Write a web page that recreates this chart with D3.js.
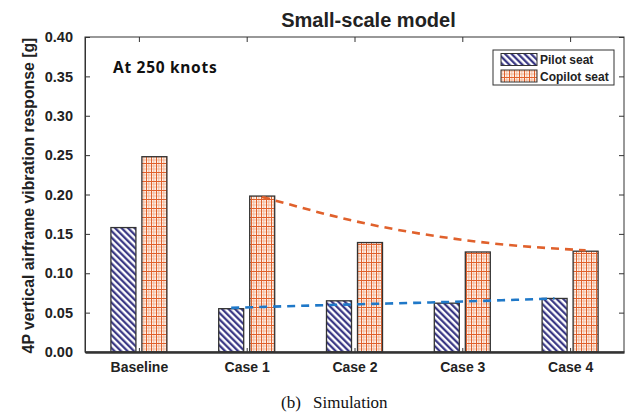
<!DOCTYPE html>
<html>
<head>
<meta charset="utf-8">
<script src="https://cdn.jsdelivr.net/npm/d3@7"></script>
<style>
  body { margin: 0; background: #fff; }
  svg { display: block; }
</style>
</head>
<body>
<div id="chart"></div>
<script>
// data
const categories = ["Baseline", "Case 1", "Case 2", "Case 3", "Case 4"];
const pilotSeat = [0.158, 0.055, 0.065, 0.062, 0.068];
const copilotSeat = [0.248, 0.198, 0.139, 0.127, 0.128];
// dashed trend lines (Case 1 .. Case 4)
const trendCats = ["Case 1", "Case 2", "Case 3", "Case 4"];
const copilotTrend = [0.197, 0.162, 0.140, 0.129];
const pilotTrend = [0.056, 0.060, 0.0635, 0.068];
const yTicks = [0, 0.05, 0.10, 0.15, 0.20, 0.25, 0.30, 0.35, 0.40];
const seriesNames = ["Pilot seat", "Copilot seat"];

const W = 628, H = 412;
const margin = { top: 37, right: 4, bottom: 60, left: 85 };
const innerW = W - margin.left - margin.right;
const innerH = H - margin.top - margin.bottom;
const ink = "#222";
const navy = "#2c2a7c";
const orange = "#e0612c";

const svg = d3.select("#chart").append("svg")
    .attr("width", W)
    .attr("height", H)
    .attr("viewBox", `0 0 ${W} ${H}`);

svg.append("rect").attr("width", W).attr("height", H).attr("fill", "#fff");

// hatch patterns
const defs = svg.append("defs");
const hatch = defs.append("pattern")
    .attr("id", "hatchPilot")
    .attr("patternUnits", "userSpaceOnUse")
    .attr("width", 4.6).attr("height", 4.6)
    .attr("patternTransform", "rotate(-45)");
hatch.append("rect").attr("width", 4.6).attr("height", 4.6).attr("fill", "#fff");
hatch.append("line")
    .attr("x1", 1.2).attr("y1", 0).attr("x2", 1.2).attr("y2", 4.6)
    .attr("stroke", navy).attr("stroke-width", 2.1);

const grid = defs.append("pattern")
    .attr("id", "gridCopilot")
    .attr("patternUnits", "userSpaceOnUse")
    .attr("width", 5).attr("height", 9);
grid.append("rect").attr("width", 5).attr("height", 9).attr("fill", "#fdf1ea");
[3, 6].forEach(v => grid.append("line")
    .attr("x1", 0).attr("x2", 5).attr("y1", v).attr("y2", v)
    .attr("stroke", "#f1ab88").attr("stroke-width", 0.8));
grid.append("line")
    .attr("x1", 3.8).attr("x2", 3.8).attr("y1", 0).attr("y2", 9)
    .attr("stroke", "#f1ab88").attr("stroke-width", 0.8);
grid.append("line")
    .attr("x1", 0).attr("x2", 5).attr("y1", 0.5).attr("y2", 0.5)
    .attr("stroke", orange).attr("stroke-width", 1);
grid.append("line")
    .attr("x1", 1.5).attr("x2", 1.5).attr("y1", 0).attr("y2", 9)
    .attr("stroke", orange).attr("stroke-width", 1);

const g = svg.append("g")
    .attr("transform", `translate(${margin.left},${margin.top})`);

const x = d3.scalePoint()
    .domain(categories)
    .range([0, innerW])
    .padding(0.5);

const y = d3.scaleLinear()
    .domain([0, 0.4])
    .range([innerH, 0]);

const barW = 25;
const off = 15.5;

// bars
g.selectAll(".pilot")
    .data(categories)
    .enter().append("rect")
    .attr("class", "pilot")
    .attr("x", (d) => x(d) - off - barW / 2)
    .attr("y", (d, i) => y(pilotSeat[i]))
    .attr("width", barW)
    .attr("height", (d, i) => innerH - y(pilotSeat[i]))
    .attr("fill", "url(#hatchPilot)")
    .attr("stroke", "#333").attr("stroke-width", 1.3);

g.selectAll(".copilot")
    .data(categories)
    .enter().append("rect")
    .attr("class", "copilot")
    .attr("x", (d) => x(d) + off - barW / 2)
    .attr("y", (d, i) => y(copilotSeat[i]))
    .attr("width", barW)
    .attr("height", (d, i) => innerH - y(copilotSeat[i]))
    .attr("fill", "url(#gridCopilot)")
    .attr("stroke", "#333").attr("stroke-width", 1.3);

// trend lines
const copLine = d3.line()
    .x((d, i) => x(trendCats[i]) + off)
    .y(d => y(d))
    .curve(d3.curveMonotoneX);
const pilLine = d3.line()
    .x((d, i) => x(trendCats[i]) - off)
    .y(d => y(d))
    .curve(d3.curveMonotoneX);

g.append("path")
    .datum(copilotTrend)
    .attr("fill", "none")
    .attr("stroke", orange)
    .attr("stroke-width", 2.6)
    .attr("stroke-dasharray", "8,6")
    .attr("d", copLine);

g.append("path")
    .datum(pilotTrend)
    .attr("fill", "none")
    .attr("stroke", "#1f78c8")
    .attr("stroke-width", 2.6)
    .attr("stroke-dasharray", "8,6")
    .attr("d", pilLine);

// frame
g.append("rect")
    .attr("width", innerW).attr("height", innerH)
    .attr("fill", "none").attr("stroke", "#333").attr("stroke-width", 1);

// left axis, ticks pointing inward
const yAxis = g.append("g")
    .call(d3.axisLeft(y).tickValues(yTicks).tickFormat(d3.format(".2f"))
        .tickSizeInner(-5).tickSizeOuter(0).tickPadding(12))
    .call(s => s.select(".domain").attr("stroke", "#333"));
yAxis.selectAll("text")
    .attr("font-family", "Liberation Sans, Arial, sans-serif")
    .attr("font-weight", "bold")
    .attr("font-size", 14.5)
    .attr("fill", ink);
yAxis.selectAll("line").attr("stroke", "#333");

// right ticks
g.append("g")
    .attr("transform", `translate(${innerW},0)`)
    .call(d3.axisRight(y).tickValues(yTicks).tickSizeInner(-5).tickSizeOuter(0).tickFormat(""))
    .call(s => s.select(".domain").remove())
    .call(s => s.selectAll("line").attr("stroke", "#333"));

// top ticks
g.append("g")
    .call(d3.axisTop(x).tickSizeInner(-5).tickSizeOuter(0).tickFormat(""))
    .call(s => s.select(".domain").remove())
    .call(s => s.selectAll("line").attr("stroke", "#333"));

// bottom axis
const xAxis = g.append("g")
    .attr("transform", `translate(0,${innerH})`)
    .call(d3.axisBottom(x).tickSizeInner(-4).tickSizeOuter(0).tickPadding(10));
xAxis.select(".domain").attr("stroke", "#333").attr("stroke-width", 2.5);
xAxis.selectAll("line").attr("stroke", "#333");
xAxis.selectAll("text")
    .attr("font-family", "Liberation Sans, Arial, sans-serif")
    .attr("font-weight", "bold")
    .attr("font-size", 14)
    .attr("fill", ink);

// title
svg.append("text")
    .attr("x", margin.left + innerW / 2 + 14)
    .attr("y", 27)
    .attr("text-anchor", "middle")
    .attr("font-family", "Liberation Sans, Arial, sans-serif")
    .attr("font-weight", "bold")
    .attr("font-size", 20)
    .attr("fill", ink)
    .text("Small-scale model");

// annotation
g.append("text")
    .attr("x", 28)
    .attr("y", 36)
    .attr("font-family", "Noto Sans, sans-serif")
    .attr("font-weight", "bold")
    .attr("font-size", 15.5)
    .attr("letter-spacing", 0.7)
    .attr("fill", "#111")
    .text("At 250 knots");

// y label
svg.append("text")
    .attr("transform", `translate(34,${margin.top + innerH / 2 + 1}) rotate(-90)`)
    .attr("text-anchor", "middle")
    .attr("font-family", "Liberation Sans, Arial, sans-serif")
    .attr("font-weight", "bold")
    .attr("font-size", 15.8)
    .attr("fill", ink)
    .text("4P vertical airframe vibration response [g]");

// legend
const lg = svg.append("g").attr("transform", "translate(493,50)");
lg.append("rect")
    .attr("width", 121).attr("height", 35)
    .attr("fill", "#fff").attr("stroke", "#333").attr("stroke-width", 1);
const fills = ["url(#hatchPilot)", "url(#gridCopilot)"];
seriesNames.forEach((name, i) => {
    lg.append("rect")
        .attr("x", 8).attr("y", 3.5 + i * 16.5)
        .attr("width", 36).attr("height", 12)
        .attr("fill", fills[i])
        .attr("stroke", "#333").attr("stroke-width", 1);
    lg.append("text")
        .attr("x", 47).attr("y", 14 + i * 16.5)
        .attr("font-family", "Liberation Sans, Arial, sans-serif")
        .attr("font-weight", "bold")
        .attr("font-size", 12)
        .attr("fill", ink)
        .text(name);
});

// caption
const cap = svg.append("text")
    .attr("x", 281).attr("y", 408)
    .attr("font-family", "Liberation Serif, Times New Roman, serif")
    .attr("font-size", 17)
    .attr("fill", "#111");
cap.append("tspan").text("(b)");
cap.append("tspan").attr("x", 313).text("Simulation");
</script>
</body>
</html>
